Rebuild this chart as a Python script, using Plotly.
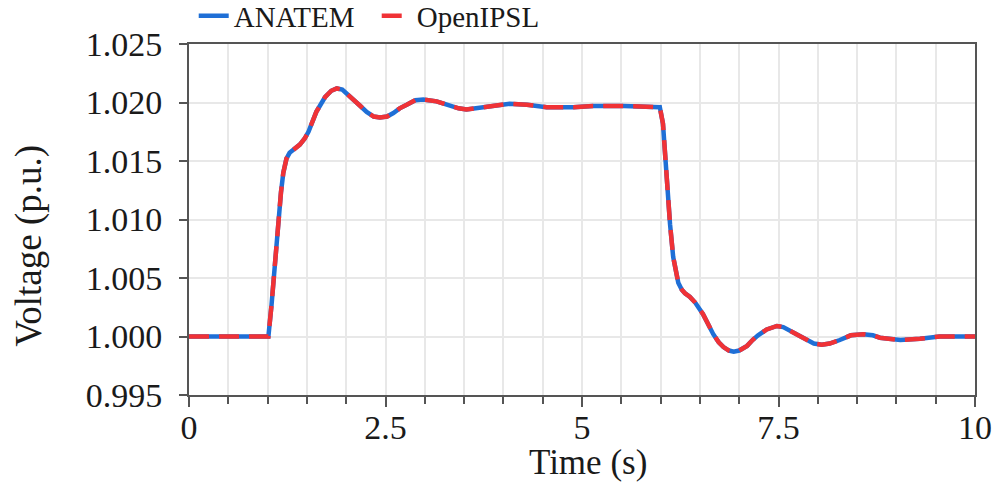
import plotly.graph_objects as go

time_s = [0.0, 0.5, 1.0, 1.01, 1.05, 1.08, 1.11, 1.14, 1.17, 1.20, 1.24, 1.28, 1.33, 1.41, 1.47,
          1.52, 1.62, 1.73, 1.81, 1.88, 1.95, 2.01, 2.09, 2.18, 2.26, 2.35, 2.43, 2.52, 2.60,
          2.68, 2.77, 2.88, 2.98, 3.06, 3.15, 3.24, 3.32, 3.43, 3.53, 3.64, 3.74, 3.90, 4.08,
          4.30, 4.55, 4.89, 5.14, 5.53, 5.90, 5.99, 6.03, 6.06, 6.085, 6.12, 6.16, 6.19, 6.225,
          6.27, 6.31, 6.37, 6.44, 6.54, 6.60, 6.67, 6.74, 6.80, 6.87, 6.93, 7.00, 7.10, 7.17,
          7.24, 7.35, 7.48, 7.56, 7.65, 7.76, 7.86, 7.95, 8.05, 8.15, 8.28, 8.42, 8.58, 8.70,
          8.79, 9.05, 9.30, 9.55, 10.0]

anatem_v = [1.0000, 1.0000, 1.0000, 1.0000, 1.0027, 1.0052, 1.0078, 1.0101, 1.0123, 1.0140,
            1.0152, 1.0157, 1.0160, 1.0164, 1.0169, 1.0175, 1.0192, 1.02045, 1.0210, 1.0212,
            1.0211, 1.0207, 1.0202, 1.0197, 1.0192, 1.0188, 1.01872, 1.0188, 1.0191, 1.0195,
            1.0198, 1.0202, 1.02025, 1.0202, 1.0201, 1.0199, 1.0197, 1.0195, 1.0194, 1.0195,
            1.0196, 1.0198, 1.0199, 1.0198, 1.0196, 1.0196, 1.0197, 1.0197, 1.0196, 1.0196,
            1.0182, 1.0153, 1.0125, 1.0096, 1.0068, 1.0055, 1.0046, 1.0040, 1.0037, 1.0034,
            1.0029, 1.0019, 1.0011, 1.0002, 0.9995, 0.9991, 0.9988, 0.9987, 0.9988, 0.9992,
            0.9997, 1.0001, 1.0006, 1.0009, 1.0008, 1.0005, 1.0001, 0.9997, 0.9994, 0.9993,
            0.9994, 0.9997, 1.0001, 1.0002, 1.0001, 0.9999, 0.9997, 0.9998, 1.0000, 1.0000]

openipsl_v = list(anatem_v)

x_ticks = [0, 2.5, 5, 7.5, 10]
x_tick_labels = ["0", "2.5", "5", "7.5", "10"]
y_ticks = [0.995, 1.000, 1.005, 1.010, 1.015, 1.020, 1.025]
y_tick_labels = ["0.995", "1.000", "1.005", "1.010", "1.015", "1.020", "1.025"]

FONT = "Liberation Serif, Times New Roman, serif"

fig = go.Figure()
fig.add_trace(go.Scatter(x=time_s, y=anatem_v, mode="lines", name="ANATEM",
                         line=dict(color="#1f6fd6", width=4.5)))
fig.add_trace(go.Scatter(x=time_s, y=openipsl_v, mode="lines", name="OpenIPSL",
                         line=dict(color="#f03236", width=4.5, dash="20px,10px")))

fig.update_layout(
    width=997, height=484,
    margin=dict(l=189, r=22, t=44, b=89, autoexpand=False),
    paper_bgcolor="white", plot_bgcolor="white",
    font=dict(family=FONT, color="#1a1a1a", size=34),
    legend=dict(orientation="h", x=0.006, y=1.08, yanchor="middle", xanchor="left",
                font=dict(size=29, family=FONT), bgcolor="rgba(0,0,0,0)",
                entrywidth=138, entrywidthmode="pixels"),
    showlegend=True,
    annotations=[
        dict(text="Time (s)", xref="paper", yref="paper", x=0.508, y=-0.193,
             xanchor="center", yanchor="middle", showarrow=False,
             font=dict(size=35, family=FONT, color="#1a1a1a")),
        dict(text="Voltage (p.u.)", xref="paper", yref="paper", x=-0.204, y=0.4245,
             xanchor="center", yanchor="middle", showarrow=False, textangle=-90,
             font=dict(size=37, family=FONT, color="#1a1a1a")),
    ],
)
fig.update_xaxes(
    range=[0, 10], tickvals=x_ticks, ticktext=x_tick_labels,
    showgrid=True, gridcolor="#e8e8e8", gridwidth=1.5,
    showline=True, linecolor="#555555", linewidth=2, mirror=True,
    ticks="outside", ticklen=10, tickwidth=1.5, tickcolor="#555555",
    minor=dict(dtick=0.5, tick0=0, ticks="outside", ticklen=7, tickwidth=1.5,
               tickcolor="#555555", showgrid=True, gridcolor="#e8e8e8", gridwidth=1.5),
    zeroline=False, automargin=False,
    tickfont=dict(size=34, family=FONT),
    ticklabelstandoff=-9,
)
fig.update_yaxes(
    range=[0.995, 1.025], tickvals=y_ticks, ticktext=y_tick_labels,
    showgrid=True, gridcolor="#e8e8e8", gridwidth=1.5,
    showline=True, linecolor="#555555", linewidth=2, mirror=True,
    ticks="outside", ticklen=8, tickwidth=1.5, tickcolor="#555555",
    zeroline=False, automargin=False,
    tickfont=dict(size=34, family=FONT),
    ticklabelstandoff=10,
)

fig.write_html("out.html", config={"displayModeBar": False},
               post_script="document.body.style.margin='0';document.body.style.padding='0';document.body.style.overflow='hidden';")
